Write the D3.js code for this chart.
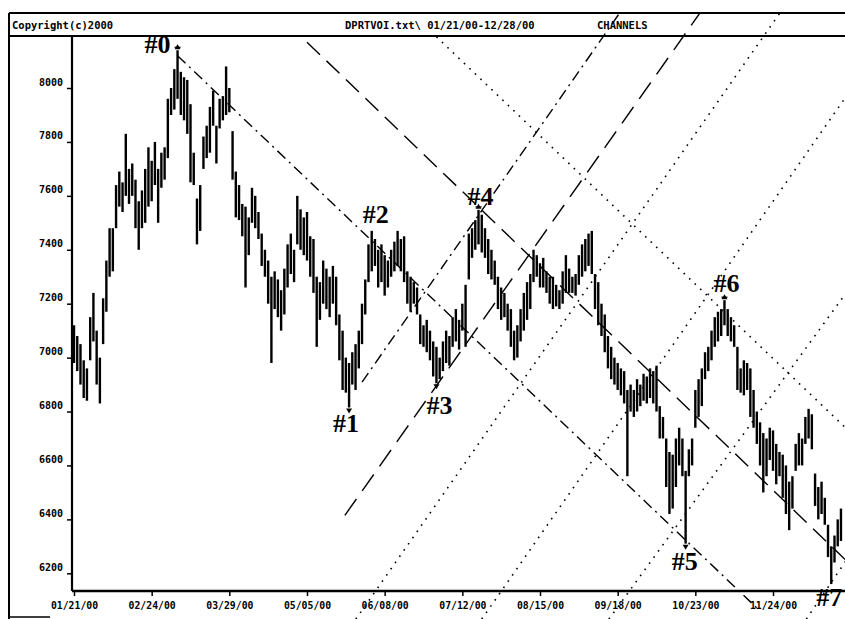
<!DOCTYPE html>
<html><head><meta charset="utf-8">
<script src="https://cdn.jsdelivr.net/npm/d3@7/dist/d3.min.js"></script>
<style>body{margin:0;background:#fff}svg{display:block}</style>
</head><body>
<svg id="chart" width="845" height="619"></svg>
<script>
// ---------- data ----------
const titleLeft = "Copyright(c)2000";
const titleMid = "DPRTVOI.txt\\ 01/21/00-12/28/00";
const titleRight = "CHANNELS";

const xTickIndex = [0, 24, 48, 72, 96, 120, 144, 168, 192, 216];
const xTickLabels = ["01/21/00","02/24/00","03/29/00","05/05/00","06/08/00","07/12/00","08/15/00","09/18/00","10/23/00","11/24/00"];
const yTicks = [6200, 6400, 6600, 6800, 7000, 7200, 7400, 7600, 7800, 8000];

const highs = [7120,7080,7050,6990,6960,7150,7240,7100,7000,7220,
7360,7480,7480,7640,7690,7650,7830,7700,7720,7660,
7580,7620,7700,7780,7730,7800,7700,7760,7780,7960,
8000,8070,8140,8060,8040,8030,7940,7760,7590,7640,
7820,7860,7930,7990,7860,7960,7970,8080,8000,7840,
7690,7640,7570,7560,7520,7630,7600,7540,7460,7400,
7360,7300,7320,7290,7250,7330,7420,7460,7400,7600,
7550,7520,7540,7450,7440,7300,7280,7360,7330,7300,
7340,7300,7160,7100,7000,6980,7020,7050,7100,7200,
7290,7420,7470,7440,7400,7420,7380,7360,7400,7430,
7470,7440,7450,7320,7300,7280,7260,7160,7120,7140,
7100,7060,7040,7000,7060,7100,7080,7150,7180,7140,
7200,7270,7460,7480,7510,7548,7530,7480,7440,7400,
7360,7300,7260,7240,7200,7180,7100,7120,7180,7240,
7280,7310,7400,7380,7350,7370,7320,7300,7300,7270,
7250,7320,7380,7330,7300,7310,7380,7420,7440,7460,
7470,7310,7280,7200,7160,7080,7040,7000,6980,6960,
6950,6880,6900,6880,6920,6900,6940,6930,6960,6950,
6970,6820,6780,6700,6650,6640,6700,6740,6700,6580,
6660,6700,6880,6920,6960,7020,7040,7100,7150,7170,
7180,7213,7180,7150,7120,7040,6960,6990,6980,6960,
6880,6800,6760,6720,6700,6740,6730,6680,6650,6640,
6600,6540,6560,6680,6720,6700,6780,6810,6790,6570,
6520,6540,6480,6380,6300,6340,6400,6440];

const lows = [6980,6950,6900,6850,6840,6990,7060,6900,6830,7050,
7170,7300,7320,7480,7560,7540,7600,7570,7600,7480,
7400,7480,7500,7560,7580,7640,7500,7630,7660,7740,
7900,7920,7960,7900,7880,7830,7650,7640,7420,7470,
7700,7740,7760,7860,7720,7850,7880,7900,7910,7660,
7520,7510,7450,7260,7380,7500,7480,7440,7340,7300,
7200,6980,7180,7150,7100,7160,7260,7310,7280,7420,
7400,7380,7360,7300,7240,7040,7140,7200,7180,7150,
7200,7120,6990,6880,6870,6815,6900,6880,6960,7050,
7160,7280,7320,7340,7260,7280,7230,7260,7300,7320,
7340,7320,7280,7200,7170,7200,7160,7050,7040,7020,
6990,6930,6905,6920,6950,6980,6970,7040,7060,7030,
7100,7040,7290,7370,7400,7420,7390,7370,7310,7290,
7270,7180,7140,7150,7100,7040,6990,7000,7060,7100,
7140,7180,7280,7300,7260,7260,7240,7200,7180,7190,
7180,7200,7240,7240,7240,7230,7270,7300,7320,7340,
7310,7180,7120,7080,7020,6960,6920,6900,6880,6860,
6830,6560,6800,6780,6800,6820,6840,6830,6850,6830,
6800,6700,6700,6520,6420,6440,6520,6600,6560,6310,
6560,6600,6740,6780,6820,6920,6950,6990,7040,7060,
7080,7120,7080,7060,7040,6880,6870,6860,6880,6780,
6740,6680,6600,6500,6560,6620,6580,6530,6560,6480,
6420,6360,6440,6580,6600,6600,6680,6700,6660,6450,
6400,6420,6380,6260,6160,6240,6300,6320];

// pivot annotations
const pivotNames = ["#0","#1","#2","#3","#4","#5","#6","#7"];
const pivotIndex = [32, 85, 92, 112, 125, 189, 201, 234];
const pivotKind  = ["high","low","high","low","high","low","high","low"];

// channel lines: [barIndex, price] endpoints
const channelNames = ["A","B","C","D1","D2","E","F","G","H"];
const channelFrom = [[32,8120],[72,8170],[112,8190],[83.7,6415],[89,6909],[87.1,6030],[126,6030],[165.3,6030],[226.3,6030]];
const channelTo   = [[212,6060],[241,6220],[241,6710],[193.4,8278],[168.6,8278],[218.1,8278],[241,8010],[241,7280],[241,6290]];

// ---------- drawing ----------
const svg = d3.select("#chart");
const W = 845, H = 619;
const frameL = 9, frameT = 13, barB = 36;
const axisX = 72, axisY = 591;

const x = d3.scaleLinear().domain([0, 216]).range([74, 773]);
const y = d3.scaleLinear().domain([6200, 8000]).range([573.3, 88]);

const mono = "'DejaVu Sans Mono', monospace";
const serif = "'Liberation Serif', 'Times New Roman', serif";

svg.append("rect").attr("width", W).attr("height", H).attr("fill", "#fff");

svg.append("clipPath").attr("id","frameClip").append("rect")
  .attr("x", frameL).attr("y", frameT).attr("width", W - frameL).attr("height", H - frameT);

// frame + title bar
svg.append("line").attr("x1", frameL).attr("x2", frameL).attr("y1", frameT).attr("y2", H)
  .attr("stroke","#000").attr("stroke-width",2);
svg.append("line").attr("x1", frameL).attr("x2", W).attr("y1", frameT).attr("y2", frameT)
  .attr("stroke","#000").attr("stroke-width",2);
svg.append("line").attr("x1", frameL).attr("x2", W).attr("y1", barB).attr("y2", barB)
  .attr("stroke","#000").attr("stroke-width",2);
svg.append("line").attr("x1", frameL).attr("x2", 50).attr("y1", 617).attr("y2", 617)
  .attr("stroke","#000").attr("stroke-width",1.5);

const tt = svg.append("g").attr("font-family", mono).attr("font-weight","bold").attr("font-size", 10.5).attr("fill","#000");
tt.append("text").attr("x", 12).attr("y", 29).text(titleLeft);
tt.append("text").attr("x", 345).attr("y", 29).text(titleMid);
tt.append("text").attr("x", 597).attr("y", 29).text(titleRight);

// axes
const yAxis = d3.axisLeft(y).tickValues(yTicks).tickSize(5).tickFormat(d3.format("d"));
const gy = svg.append("g").attr("transform", `translate(${axisX},0)`).call(yAxis);
gy.select(".domain").remove();
gy.selectAll(".tick line").attr("stroke","#000").attr("stroke-width",1.5);
gy.selectAll(".tick text").attr("font-family", mono).attr("font-weight","bold").attr("font-size",10)
  .attr("x",-9).attr("dy","-0.3em").attr("fill","#000");
svg.append("line").attr("x1", axisX).attr("x2", axisX).attr("y1", barB).attr("y2", axisY)
  .attr("stroke","#000").attr("stroke-width",2.2);

const xAxis = d3.axisBottom(x).tickValues(xTickIndex).tickSize(5).tickFormat((d,i) => xTickLabels[i]);
const gx = svg.append("g").attr("transform", `translate(0,${axisY})`).call(xAxis);
gx.select(".domain").remove();
gx.selectAll(".tick line").attr("stroke","#000").attr("stroke-width",1.5);
gx.selectAll(".tick text").attr("font-family", mono).attr("font-weight","bold").attr("font-size",9.8)
  .attr("y",11).attr("fill","#000");
svg.append("line").attr("x1", axisX).attr("x2", W).attr("y1", axisY).attr("y2", axisY)
  .attr("stroke","#000").attr("stroke-width",2.6);

// channel lines
const styles = {
  A:  {dash:"11,5,2,5", w:1.4},
  B:  {dash:"18,9", w:1.4},
  C:  {dash:"1.6,6", w:1.6},
  D1: {dash:"20,10", w:1.4},
  D2: {dash:"11,5,2,5", w:1.4},
  E:  {dash:"1.6,6", w:1.6},
  F:  {dash:"1.6,6", w:1.6},
  G:  {dash:"1.6,6", w:1.6},
  H:  {dash:"1.6,6", w:1.6}
};
const gl = svg.append("g").attr("clip-path","url(#frameClip)");
channelNames.forEach((n, k) => {
  gl.append("line")
    .attr("x1", x(channelFrom[k][0])).attr("y1", y(channelFrom[k][1]))
    .attr("x2", x(channelTo[k][0])).attr("y2", y(channelTo[k][1]))
    .attr("stroke","#000").attr("stroke-width", styles[n].w)
    .attr("stroke-dasharray", styles[n].dash).attr("fill","none");
});

// price bars
const bars = d3.range(highs.length);
svg.append("g").selectAll("line").data(bars).join("line")
  .attr("x1", i => x(i)).attr("x2", i => x(i))
  .attr("y1", i => y(highs[i])).attr("y2", i => y(lows[i]))
  .attr("stroke","#000").attr("stroke-width",2.4);

// pivot markers & labels
const labelOff = {
  "#0": {dx:-7, dy:3, anchor:"end"},
  "#1": {dx:-3, dy:25, anchor:"middle"},
  "#2": {dx:4, dy:-8, anchor:"middle"},
  "#3": {dx:3, dy:31, anchor:"middle"},
  "#4": {dx:2, dy:-5, anchor:"middle"},
  "#5": {dx:-1, dy:26, anchor:"middle"},
  "#6": {dx:2, dy:-8, anchor:"middle"},
  "#7": {dx:-2, dy:22, anchor:"middle"}
};
const gp = svg.append("g");
pivotNames.forEach((n, k) => {
  const i = pivotIndex[k];
  const px = x(i);
  const py = pivotKind[k] === "high" ? y(highs[i]) : y(lows[i]);
  if (n !== "#2" && n !== "#7") {
    if (pivotKind[k] === "low") {
      gp.append("path").attr("d", `M${px-3},${py+1} L${px+3},${py+1} L${px},${py+6} Z`).attr("fill","#000");
    } else {
      gp.append("path").attr("d", `M${px-3},${py-1} L${px+3},${py-1} L${px},${py-6} Z`).attr("fill","#000");
      gp.append("line").attr("x1",px-3).attr("x2",px+3).attr("y1",py-3).attr("y2",py-3).attr("stroke","#000").attr("stroke-width",1.2);
    }
  }
  const o = labelOff[n];
  gp.append("text").attr("x", px + o.dx).attr("y", py + o.dy)
    .attr("text-anchor", o.anchor).attr("font-family", serif).attr("font-weight","bold")
    .attr("font-size", 26).attr("fill","#000").text(n);
});
</script>
</body></html>
